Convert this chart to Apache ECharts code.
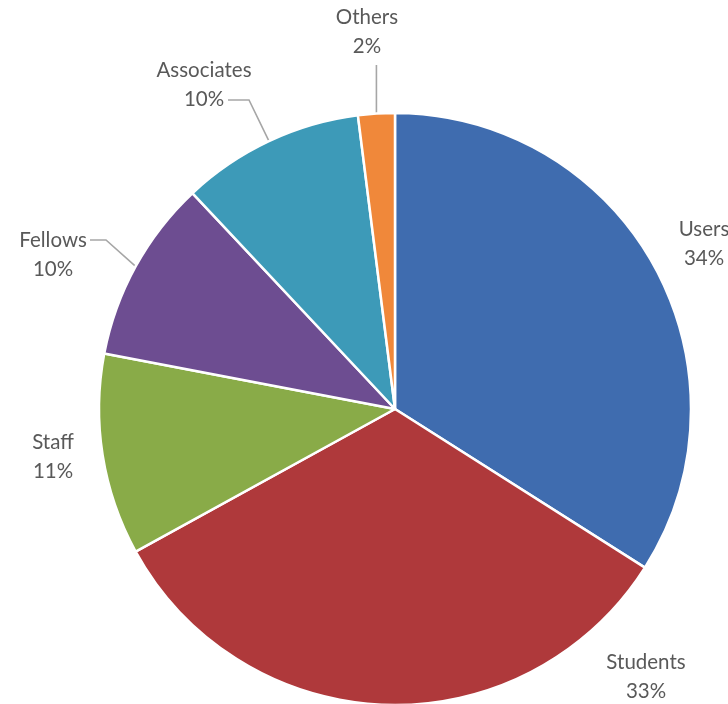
<!DOCTYPE html>
<html>
<head>
<meta charset="utf-8">
<title>Membership by category</title>
<script src="https://cdn.jsdelivr.net/npm/echarts@6/dist/echarts.min.js"></script>
<style>
  html, body { margin: 0; padding: 0; background: #ffffff; }
  #chart { width: 728px; height: 704px; }
</style>
</head>
<body>
<div id="chart"></div>
<script>
// Member categories, clockwise from 12 o'clock, and their share in percent
const categories = ['Users', 'Students', 'Staff', 'Fellows', 'Associates', 'Others'];
const shares = [34, 33, 11, 10, 10, 2];
const colors = ['#3F6CAF', '#AF393B', '#89AB48', '#6D4D91', '#3D9AB8', '#F0883A'];

// Where each two-line label sits (block centre), and how its leader line bends
const LABEL_LAYOUT = {
  Users:      { x: 704, y: 244 },
  Students:   { x: 646, y: 677 },
  Staff:      { x: 53,  y: 457 },
  Fellows:    { x: 53,  y: 255, elbow: [[53, -15], [37, -15]] },
  Associates: { x: 204, y: 85,  elbow: [[45, 15], [24, 15]] },
  Others:     { x: 367, y: 32,  riseTo: 33 }
};

const chart = echarts.init(document.getElementById('chart'), null, { renderer: 'canvas' });

const data = categories.map((name, i) => {
  const lay = LABEL_LAYOUT[name];
  const hasLine = !!(lay.elbow || lay.riseTo != null);
  return {
    name: name,
    value: shares[i],
    itemStyle: { color: colors[i] },
    labelLine: { show: hasLine }
  };
});

chart.setOption({
  animation: false,
  backgroundColor: '#ffffff',
  series: [{
    type: 'pie',
    center: [395, 409],
    radius: 296,
    startAngle: 90,
    clockwise: true,
    avoidLabelOverlap: false,
    data: data,
    itemStyle: { borderColor: '#ffffff', borderWidth: 2.5 },
    label: {
      show: true,
      position: 'outside',
      formatter: p => p.name + '\n' + Math.round(p.percent) + '%',
      fontFamily: 'Lato, "Open Sans", sans-serif',
      fontSize: 20.5,
      lineHeight: 29,
      color: '#595959',
      align: 'center'
    },
    labelLine: {
      show: true,
      smooth: false,
      length: 20,
      length2: 15,
      lineStyle: { color: '#A6A6A6', width: 1.6 }
    },
    labelLayout: function (params) {
      const lay = LABEL_LAYOUT[categories[params.dataIndex]];
      const out = { x: lay.x, y: lay.y, align: 'center', verticalAlign: 'middle' };
      const pts = params.labelLinePoints;
      if (pts && pts.length) {
        // start of the leader sits on the slice edge at its mid-angle
        const start = pts[0];
        if (lay.elbow) {
          out.labelLinePoints = [
            start,
            [lay.x + lay.elbow[0][0], lay.y + lay.elbow[0][1]],
            [lay.x + lay.elbow[1][0], lay.y + lay.elbow[1][1]]
          ];
        } else if (lay.riseTo != null) {
          const end = [start[0], lay.y + lay.riseTo];
          out.labelLinePoints = [start, end, end];
        }
      }
      return out;
    }
  }]
});
</script>
</body>
</html>
